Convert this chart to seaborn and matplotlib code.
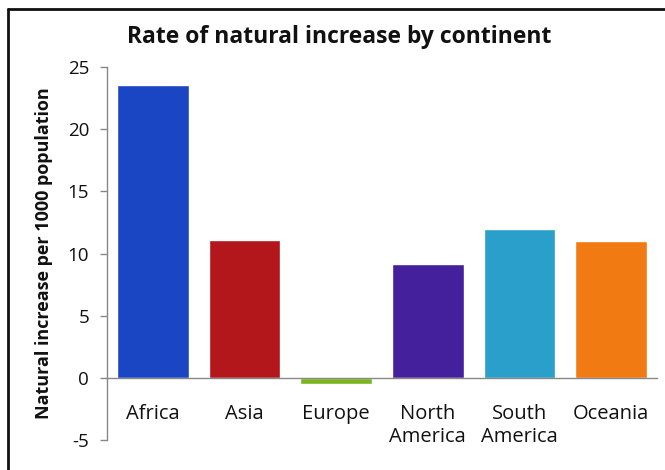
import matplotlib
matplotlib.use("Agg")
import matplotlib.pyplot as plt
from matplotlib.lines import Line2D
import seaborn as sns
import pandas as pd
import numpy as np

continents = ["Africa", "Asia", "Europe", "North America", "South America", "Oceania"]
tick_labels = ["Africa", "Asia", "Europe", "North\nAmerica", "South\nAmerica", "Oceania"]
rates = [23.6, 11.1, -0.5, 9.2, 12.0, 11.0]
colors = ["#1a46c4", "#b3161b", "#7ab51d", "#45209c", "#2a9fcb", "#f27a12"]

df = pd.DataFrame({"continent": continents, "rate": rates})

sns.set_theme(style="white")
plt.rcParams["font.family"] = ["Open Sans", "DejaVu Sans"]

fig = plt.figure(figsize=(6.65, 4.7), dpi=100)
ax = fig.add_axes([0.161, 0.064, 0.827, 0.793])

sns.barplot(data=df, x="continent", y="rate", hue="continent",
            palette=dict(zip(continents, colors)), width=0.78,
            saturation=1, legend=False, ax=ax)

ax.set_xlim(-0.5, len(continents) - 0.5)
ax.set_ylim(-5, 25)
ax.set_yticks([-5, 0, 5, 10, 15, 20, 25])
ax.set_yticklabels(["-5", "0", "5", "10", "15", "20", "25"])

# category labels at bar centres, tick marks on the category boundaries
ax.set_xticks(range(len(continents)))
ax.set_xticklabels(tick_labels, linespacing=1.45)
ax.set_xticks(np.arange(0.5, len(continents)), minor=True)
ax.tick_params(axis="x", which="major", length=0, pad=19, labelsize=14.5, colors="#111111")
ax.tick_params(axis="x", which="minor", length=6, width=1, color="#888888", direction="out")
ax.tick_params(axis="y", length=5, width=1, color="#888888", pad=8, labelsize=13.5,
               labelcolor="#111111", left=True)

for side in ["top", "right"]:
    ax.spines[side].set_visible(False)
ax.spines["bottom"].set_position(("data", 0))
for side in ["left", "bottom"]:
    ax.spines[side].set_color("#888888")
    ax.spines[side].set_linewidth(1)

ax.set_xlabel("")
ax.set_ylabel("Natural increase per 1000 population", fontsize=13,
              fontweight="bold", color="#111111")
ax.yaxis.set_label_coords(-0.098, 0.5)

fig.text(0.51, 0.921, "Rate of natural increase by continent", ha="center",
         va="center", fontsize=16.5, fontweight="bold", color="#111111")

# outer frame
fig.add_artist(Line2D([0.012, 1.0], [0.981, 0.981], color="#111111", lw=2))
fig.add_artist(Line2D([0.012, 0.012], [0.0, 0.981], color="#111111", lw=2))

fig.savefig("out.png", dpi=100)
